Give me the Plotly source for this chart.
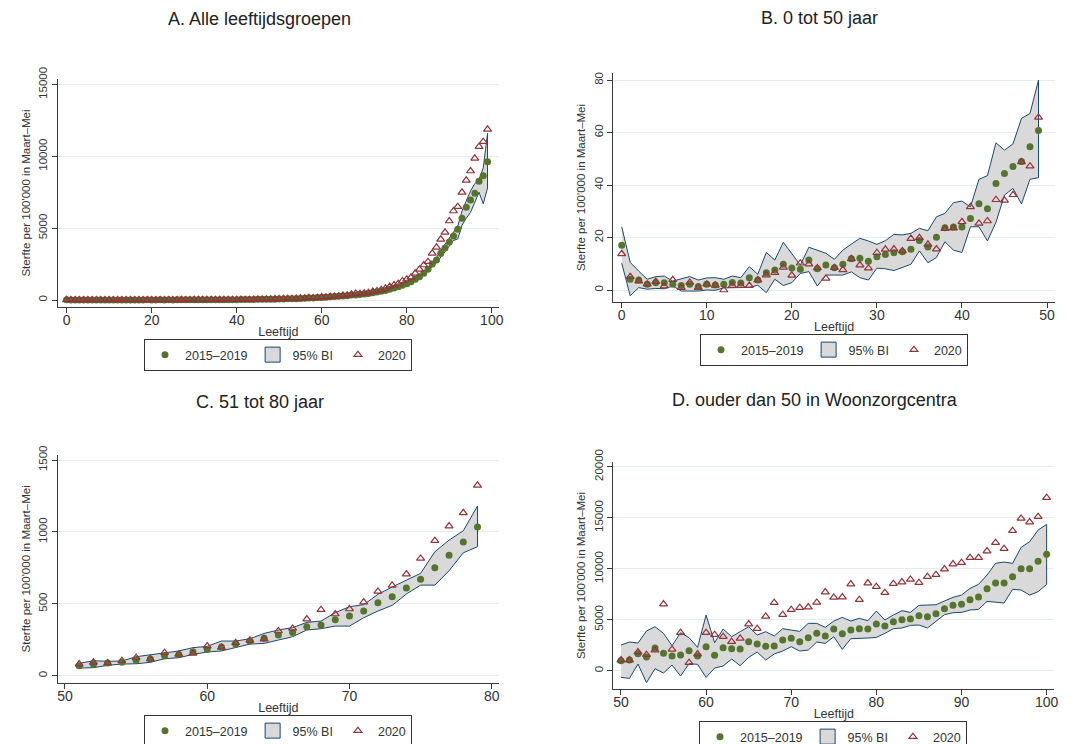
import plotly.graph_objects as go

# ---------------- DATA ----------------
# Panel B: ages 0..49
b_age = list(range(0, 50))
b_mean = [17.1, 4.1, 3.8, 2.2, 2.8, 2.8, 2.2, 1.7, 2.2, 1.3, 2.2, 1.9, 2.2, 2.9, 2.7, 4.7, 3.8, 6.6, 7.6, 9.8,
          8.4, 7.9, 11.4, 8.1, 9.5, 8.5, 9.8, 11.9, 12.1, 11.0, 12.7, 13.5, 14.2, 14.6, 15.5, 18.9, 16.4, 20.1, 23.7, 24.0,
          24.0, 27.3, 32.9, 31.0, 40.6, 44.4, 47.1, 49.0, 54.6, 60.8]
b_2020 = [13.8, 5.1, 3.4, 2.2, 3.2, 1.5, 3.9, 0.9, 2.9, 0.9, 2.2, 1.8, 0.0, 1.7, 1.7, 1.7, 3.8, 5.7, 6.6, 8.6,
          5.6, 10.2, 9.9, 8.4, 4.4, 8.5, 7.7, 11.9, 9.5, 8.3, 14.2, 15.5, 15.6, 14.9, 19.6, 19.9, 17.4, 15.6, 23.4, 23.6,
          26.0, 31.7, 25.4, 26.3, 34.4, 34.2, 36.3, 48.8, 47.2, 65.8]
b_upper = [24.1, 10.5, 7.2, 4.1, 5.1, 5.3, 3.4, 4.2, 5.1, 3.8, 4.6, 4.7, 4.1, 5.3, 4.7, 8.9, 6.0, 14.3, 11.4, 18.2,
           13.7, 9.5, 16.3, 15.2, 14.0, 11.7, 15.2, 17.5, 19.7, 18.7, 17.4, 18.8, 21.2, 21.0, 21.6, 23.5, 22.6, 27.9, 29.2, 33.3,
           33.9, 31.7, 42.2, 43.6, 56.1, 53.3, 55.7, 65.4, 67.3, 80.0]
b_lower = [10.2, -2.2, 0.9, 0.3, 0.6, 0.5, 1.5, -0.4, -0.4, -0.4, 0.0, -0.1, 0.8, 1.0, 0.9, 1.0, 1.8, -1.0, 4.1, 1.7,
           2.8, 6.3, 7.0, 1.5, 5.7, 5.7, 5.7, 6.9, 4.7, 3.8, 8.3, 8.1, 7.4, 8.6, 9.8, 14.9, 10.4, 12.4, 18.4, 15.2,
           14.3, 24.1, 24.1, 18.7, 25.8, 36.2, 38.7, 32.8, 42.2, 42.8]

# Panel C: ages 51..79
c_age = list(range(51, 80))
c_mean = [70, 79, 88, 93, 107, 116, 139, 148, 167, 183, 199, 220, 241, 260, 283, 301, 341, 352, 389, 415,
          450, 508, 549, 610, 670, 751, 837, 930, 1034]
c_2020 = [81, 93, 88, 104, 125, 116, 160, 148, 155, 206, 197, 229, 246, 255, 311, 329, 394, 459, 429, 464,
          512, 586, 628, 707, 816, 939, 1041, 1133, 1324]
c_upper = [86, 104, 100, 102, 132, 144, 155, 172, 195, 204, 241, 241, 257, 294, 318, 334, 371, 380, 438, 480,
           494, 566, 617, 665, 712, 862, 943, 1008, 1180]
c_lower = [53, 56, 72, 81, 83, 93, 118, 125, 148, 165, 172, 197, 220, 225, 248, 271, 318, 327, 345, 345,
           403, 450, 489, 568, 630, 630, 730, 855, 897]

# Panel A: all ages 0..99 (0-49 as panel B, 50 estimated, 51-79 as panel C, 80-99 read here)
a_age50_mean, a_age50_2020, a_age50_upper, a_age50_lower = 65, 72, 80, 50
a_old_age = list(range(80, 100))
a_old_mean = [1138, 1277, 1440, 1625, 1857, 2136, 2507, 2786, 3250, 3621,
              4039, 4457, 4921, 5687, 6453, 6964, 7428, 8264, 8660, 9633]
a_old_2020 = [1439, 1578, 1857, 2136, 2437, 2669, 3250, 3668, 4225, 4713,
              5501, 6198, 6499, 7498, 8333, 8983, 9865, 10678, 11026, 11884]
a_old_upper = [1200, 1340, 1510, 1710, 1950, 2260, 2650, 2950, 3450, 3880,
               4300, 4750, 5150, 6200, 6900, 7600, 8100, 8400, 9200, 11600]
a_old_lower = [1080, 1210, 1370, 1540, 1760, 2000, 2300, 2600, 3000, 3350,
               3750, 4150, 4250, 5200, 5700, 6100, 6800, 7500, 6700, 7800]

# Panel D: nursing homes, ages 50..100
d_age = list(range(50, 101))
d_mean = [980, 1046, 1667, 1340, 2222, 1699, 1438, 1536, 1961, 1438,
          2353, 1503, 2255, 2157, 2124, 2843, 2614, 2386, 2418, 3007,
          3170, 2843, 3235, 3660, 3399, 4085, 3628, 3987, 4118, 4085,
          4575, 4379, 4804, 5000, 5065, 5392, 5294, 5588, 6078, 6405,
          6503, 6961, 7222, 8039, 8595, 8595, 9216, 10000, 10000, 10719, 11405]
d_2020 = [1046, 1046, 1830, 1569, 2026, 6536, 2092, 3725, 784, 1634,
          3725, 3529, 3333, 2843, 3170, 4575, 4118, 5327, 6667, 5490,
          5980, 6176, 6242, 6699, 7712, 7190, 7222, 8497, 6961, 8595,
          8235, 7647, 8530, 8693, 8954, 8627, 9216, 9412, 9967, 10458,
          10588, 11078, 11078, 11732, 12549, 11961, 13726, 14935, 14575, 15098, 16961]
d_upper = [2516, 2810, 2712, 3889, 4314, 3660, 2451, 3725, 3235, 2288,
           5458, 2745, 4085, 3333, 3824, 4314, 3497, 3824, 3399, 4118,
           3987, 3856, 4641, 4641, 4248, 4869, 5229, 4869, 5131, 4902,
           5850, 4967, 5458, 5882, 5719, 6405, 6438, 6471, 6830, 7190,
           7418, 8072, 8464, 9379, 10523, 10654, 10523, 12092, 12647, 13791, 14346]
d_lower = [-654, -752, 654, -1176, 196, -229, 556, -523, 686, 621,
           -654, 261, 458, 1144, 490, 1307, 1830, 1046, 1634, 1928,
           2353, 1928, 2026, 2810, 2680, 3333, 2092, 3137, 3137, 3203,
           3268, 3660, 4118, 4183, 4444, 4477, 4183, 4869, 5490, 5686,
           5719, 5948, 6013, 6797, 6732, 6634, 7974, 7908, 7418, 7745, 8464]

a_age = b_age + [50] + c_age + a_old_age
a_mean = b_mean + [a_age50_mean] + c_mean + a_old_mean
a_2020 = b_2020 + [a_age50_2020] + c_2020 + a_old_2020
a_upper = b_upper + [a_age50_upper] + c_upper + a_old_upper
a_lower = b_lower + [a_age50_lower] + c_lower + a_old_lower

titles = ["A. Alle leeftijdsgroepen", "B. 0 tot 50 jaar", "C. 51 tot 80 jaar",
          "D. ouder dan 50 in Woonzorgcentra"]
legend_names = ["2015\u20132019", "95% BI", "2020"]
y_title = "Sterfte per 100'000 in Maart\u2013Mei"
x_title = "Leeftijd"

# ---------------- STYLE ----------------
W, H = 1073, 744
GREEN = "#55752f"
MAROON = "#90353b"
NAVY = "#1a476f"
FILL = "#d9d9d9"
GRID = "#e3edf0"
AXIS = "#3a3a3a"
FONT = "Liberation Sans, Arial, sans-serif"

def px_x(p):
    return p / W

def px_y(p):
    return 1 - p / H

panels = [
    dict(age=a_age, mean=a_mean, y20=a_2020, up=a_upper, lo=a_lower,
         dom_x=(57.7, 499), dom_y=(79, 307), xr=[-2.1, 101.7], yr=[-487, 15390],
         xt=[0, 20, 40, 60, 80, 100], yt=[0, 5000, 10000, 15000],
         title_xy=(259, 19), leg_xy=(278, 339)),
    dict(age=b_age, mean=b_mean, y20=b_2020, up=b_upper, lo=b_lower,
         dom_x=(613.3, 1055), dom_y=(73.3, 301.7), xr=[-0.99, 50.94], yr=[-4.46, 82.6],
         xt=[0, 10, 20, 30, 40, 50], yt=[0, 20, 40, 60, 80],
         title_xy=(819, 18), leg_xy=(834, 334)),
    dict(age=c_age, mean=c_mean, y20=c_2020, up=c_upper, lo=c_lower,
         dom_x=(57.7, 499), dom_y=(455, 682.7), xr=[49.49, 80.51], yr=[-48.7, 1535],
         xt=[50, 60, 70, 80], yt=[0, 500, 1000, 1500],
         title_xy=(260, 402), leg_xy=(278, 715)),
    dict(age=d_age, mean=d_mean, y20=d_2020, up=d_upper, lo=d_lower,
         dom_x=(613.3, 1054.3), dom_y=(461.7, 689.3), xr=[49.1, 100.9], yr=[-1824, 20490],
         xt=[50, 60, 70, 80, 90, 100], yt=[0, 5000, 10000, 15000, 20000],
         title_xy=(815, 400), leg_xy=(833, 721)),
]

fig = go.Figure()
layout = dict(
    width=W, height=H,
    margin=dict(l=0, r=0, t=0, b=0, autoexpand=False),
    paper_bgcolor="white", plot_bgcolor="white",
    font=dict(family=FONT, color="#222"),
    annotations=[],
)

for i, p in enumerate(panels):
    n = "" if i == 0 else str(i + 1)
    xa, ya = "x" + n, "y" + n
    leg = "legend" + n
    band_x = list(p["age"]) + list(p["age"])[::-1]
    band_y = list(p["up"]) + list(p["lo"])[::-1]
    fig.add_trace(go.Scatter(
        x=band_x, y=band_y, fill="toself", fillcolor=FILL, mode="lines",
        line=dict(color=NAVY, width=1), name=legend_names[1], showlegend=False,
        xaxis=xa, yaxis=ya, hoverinfo="skip"))
    fig.add_trace(go.Scatter(
        x=p["age"], y=p["mean"], mode="markers", name=legend_names[0], legend=leg,
        legendrank=1, marker=dict(color=GREEN, size=7, symbol="circle"),
        xaxis=xa, yaxis=ya))
    # legend-only key for the band (box symbol)
    fig.add_trace(go.Scatter(
        x=[None], y=[None], mode="markers", name=legend_names[1], legend=leg,
        legendrank=2, marker=dict(color=FILL, size=15, symbol="square",
                                  line=dict(color=NAVY, width=1)),
        xaxis=xa, yaxis=ya, hoverinfo="skip"))
    fig.add_trace(go.Scatter(
        x=p["age"], y=p["y20"], mode="markers", name=legend_names[2], legend=leg,
        legendrank=3, marker=dict(color=MAROON, size=7, symbol="triangle-up-open",
                                  line=dict(width=1.2, color=MAROON)),
        xaxis=xa, yaxis=ya))

    layout["xaxis" + n] = dict(
        domain=[px_x(p["dom_x"][0]), px_x(p["dom_x"][1])],
        anchor=ya, range=p["xr"], tickvals=p["xt"], ticktext=[str(v) for v in p["xt"]],
        ticks="outside", ticklen=5, ticklabelstandoff=-5,
        tickcolor=AXIS, showline=True, linecolor=AXIS, linewidth=1,
        showgrid=False, zeroline=False,
        tickfont=dict(size=14, color="#333"),
        title=dict(text=x_title, font=dict(size=12.5, color="#333"), standoff=0),
    )
    layout["yaxis" + n] = dict(
        domain=[px_y(p["dom_y"][1]), px_y(p["dom_y"][0])],
        anchor=xa, range=p["yr"], tickvals=p["yt"], ticktext=[str(v) for v in p["yt"]],
        ticks="outside", ticklen=5,
        tickcolor=AXIS, showline=True, linecolor=AXIS, linewidth=1,
        showgrid=True, gridcolor=GRID, gridwidth=1, zeroline=False,
        tickangle=-90, tickfont=dict(size=11.5, color="#333"),
        title=dict(text=y_title, font=dict(size=11.5, color="#333"), standoff=4),
    )
    layout[leg] = dict(
        orientation="h", x=px_x(p["leg_xy"][0]), y=px_y(p["leg_xy"][1]),
        xanchor="center", yanchor="top", xref="paper", yref="paper",
        bordercolor="#333", borderwidth=1, bgcolor="white",
        font=dict(size=12.5, color="#333"), itemwidth=30, tracegroupgap=0,
        traceorder="normal",
    )
    layout["annotations"].append(dict(
        text=titles[i], x=px_x(p["title_xy"][0]), y=px_y(p["title_xy"][1]),
        xref="paper", yref="paper", xanchor="center", yanchor="middle",
        showarrow=False, font=dict(size=18, color="#222")))

fig.update_layout(**layout)
fig.write_html("out.html", config={"displayModeBar": False},
               post_script="document.body.style.margin='0';")
